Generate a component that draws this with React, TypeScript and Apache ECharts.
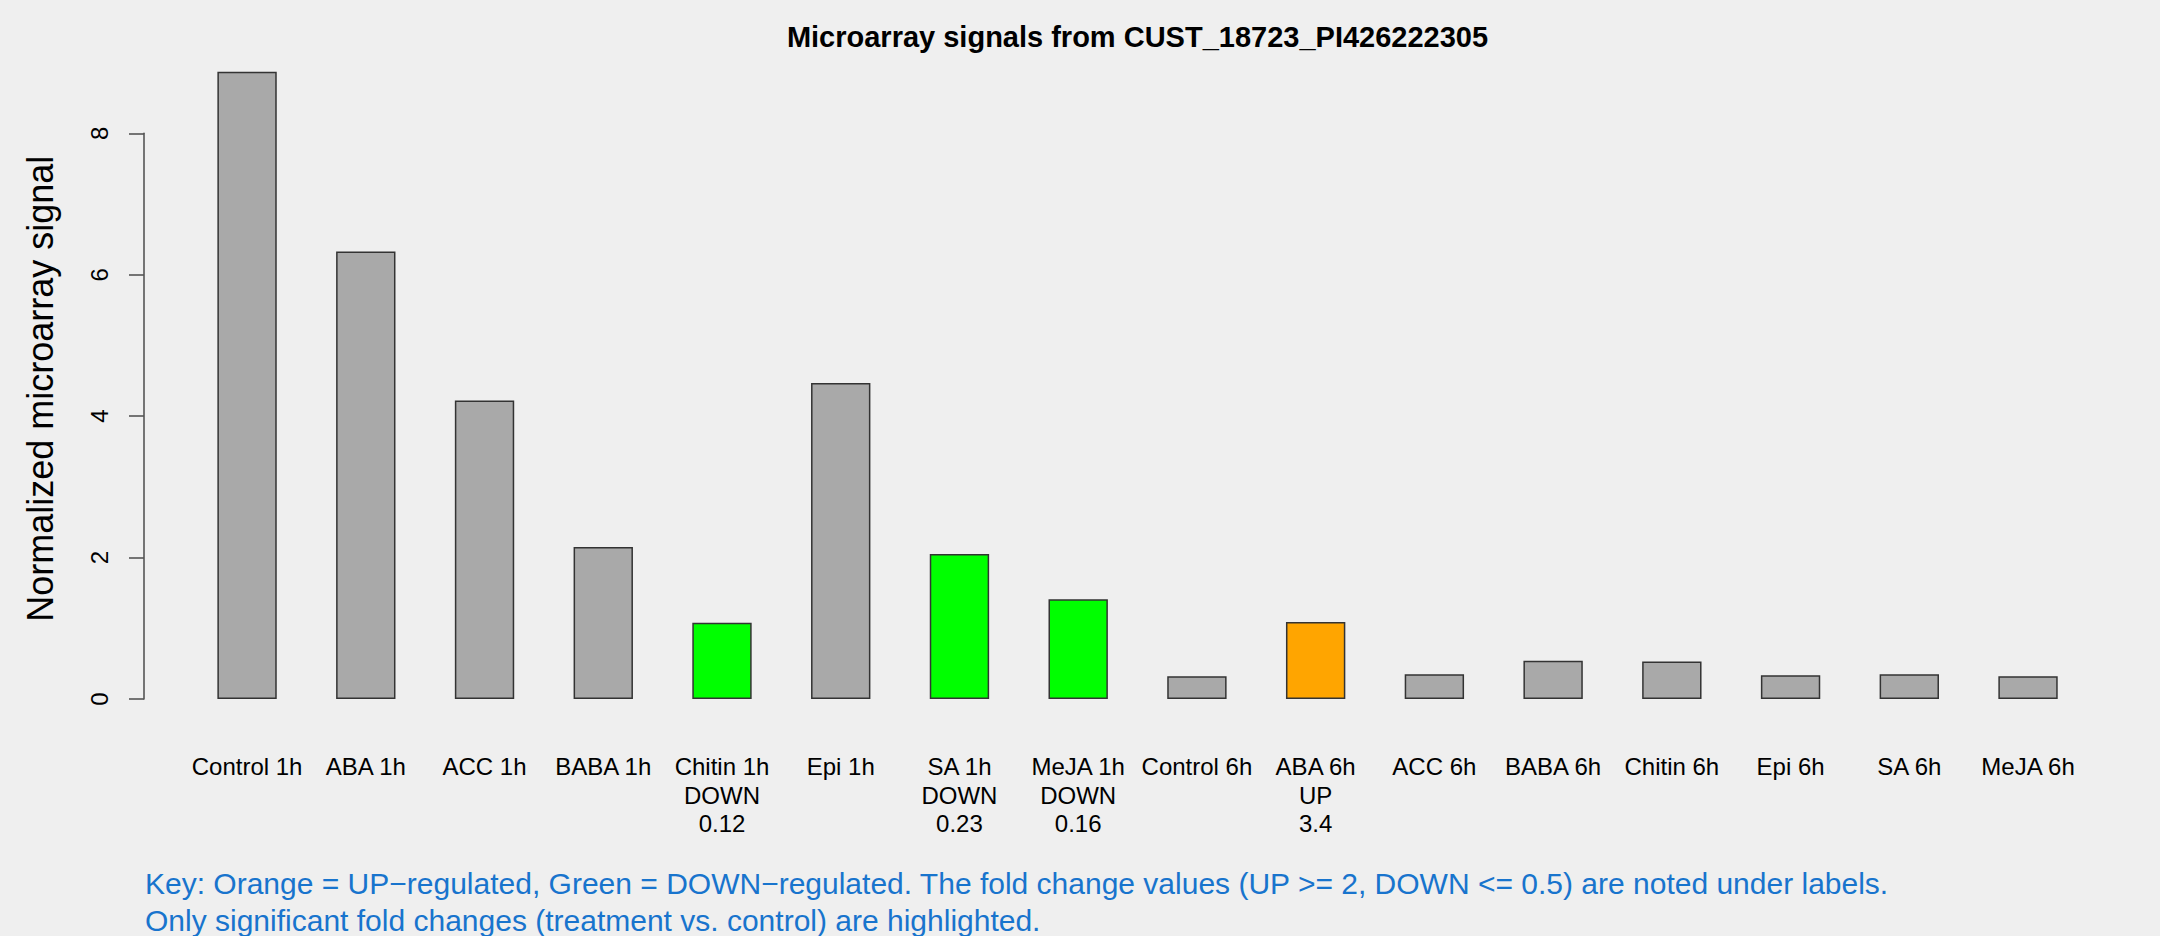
import React, { useEffect, useRef } from "react";
import * as echarts from "echarts";

const categories = [
  "Control 1h", "ABA 1h", "ACC 1h", "BABA 1h", "Chitin 1h", "Epi 1h", "SA 1h", "MeJA 1h",
  "Control 6h", "ABA 6h", "ACC 6h", "BABA 6h", "Chitin 6h", "Epi 6h", "SA 6h", "MeJA 6h",
];
const signals = [8.87, 6.33, 4.22, 2.15, 1.08, 4.47, 2.05, 1.41, 0.32, 1.09, 0.35, 0.54, 0.53, 0.335, 0.35, 0.32];
const regulation = ["", "", "", "", "DOWN", "", "DOWN", "DOWN", "", "UP", "", "", "", "", "", ""];
const foldChange = ["", "", "", "", "0.12", "", "0.23", "0.16", "", "3.4", "", "", "", "", "", ""];
const yTicks = [0, 2, 4, 6, 8];

const titleText = "Microarray signals from CUST_18723_PI426222305";
const yTitle = "Normalized microarray signal";
const keyLines = [
  "Key: Orange = UP\u2212regulated, Green = DOWN\u2212regulated. The fold change values (UP >= 2, DOWN <= 0.5) are noted under labels.",
  "Only significant fold changes (treatment vs. control) are highlighted.",
];

const FONT = "'Liberation Sans', Arial, Helvetica, sans-serif";
const colorFor = (r: string) => (r === "UP" ? "#FFA500" : r === "DOWN" ? "#00FF00" : "#A9A9A9");

export default function App() {
  const ref = useRef<HTMLDivElement>(null);
  useEffect(() => {
    document.body.style.margin = "0";
    if (!ref.current) return;
    const chart = echarts.init(ref.current, null, { renderer: "svg" });
    chart.setOption({
      animation: false,
      backgroundColor: "#EFEFEF",
      grid: { left: 187.7, right: 72.6, top: 133.3, bottom: 237 },
      xAxis: {
        type: "category",
        data: categories,
        boundaryGap: true,
        axisLine: { show: false },
        axisTick: { show: false },
        splitLine: { show: false },
        axisLabel: {
          interval: 0,
          margin: 53,
          fontFamily: FONT,
          fontSize: 24,
          color: "#000",
          lineHeight: 28.7,
          verticalAlign: "top",
          formatter: (v: string, i: number) => {
            const parts = [v];
            if (regulation[i]) parts.push(regulation[i]);
            if (foldChange[i]) parts.push(foldChange[i]);
            return parts.join("\n");
          },
        },
      },
      yAxis: {
        type: "value",
        min: yTicks[0],
        max: yTicks[yTicks.length - 1],
        interval: 2,
        offset: 43.7,
        splitLine: { show: false },
        axisLine: { show: true, lineStyle: { color: "#555", width: 1.6 } },
        axisTick: { show: true, length: 15, lineStyle: { color: "#555", width: 1.6 } },
        axisLabel: {
          rotate: 90,
          margin: 33,
          fontFamily: FONT,
          fontSize: 24,
          color: "#000",
        },
      },
      series: [
        {
          type: "bar",
          barWidth: "50%",
          clip: false,
          data: signals.map((v, i) => ({
            value: v,
            itemStyle: { color: colorFor(regulation[i]), borderColor: "#333", borderWidth: 1.5 },
          })),
        },
      ],
      graphic: [
        {
          type: "text",
          x: 1137.5,
          y: 36.5,
          style: {
            text: titleText,
            fontFamily: FONT,
            fontSize: 29,
            fontWeight: "bold",
            fill: "#000",
            align: "center",
            verticalAlign: "middle",
          },
        },
        {
          type: "text",
          x: 40,
          y: 388.8,
          rotation: Math.PI / 2,
          style: {
            text: yTitle,
            fontFamily: FONT,
            fontSize: 36,
            fill: "#000",
            align: "center",
            verticalAlign: "middle",
          },
        },
        ...keyLines.map((t, i) => ({
          type: "text",
          x: 145,
          y: 883.8 + i * 36.4,
          style: {
            text: t,
            fontFamily: FONT,
            fontSize: 30,
            fill: "#1874CD",
            align: "left",
            verticalAlign: "middle",
          },
        })),
      ],
    });
    return () => chart.dispose();
  }, []);
  return <div ref={ref} style={{ width: 2160, height: 936 }} />;
}
